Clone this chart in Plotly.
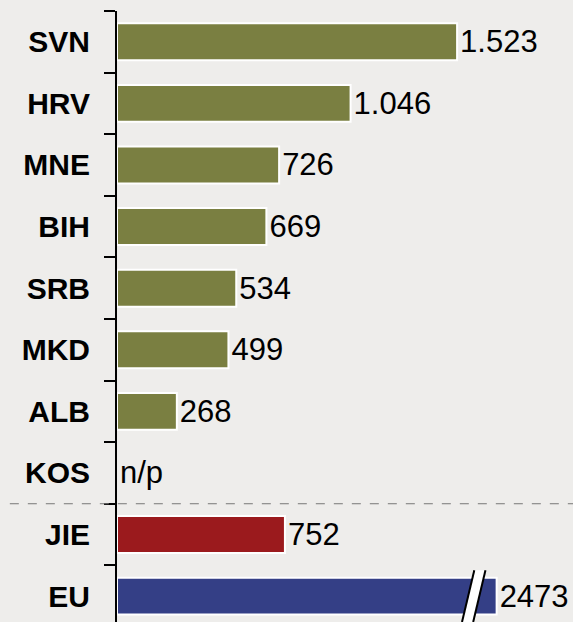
import plotly.graph_objects as go

countries = ["SVN", "HRV", "MNE", "BIH", "SRB", "MKD", "ALB", "KOS", "JIE", "EU"]
values = [1523, 1046, 726, 669, 534, 499, 268, 0, 752, 2473]
labels = ["1.523", "1.046", "726", "669", "534", "499", "268", "n/p", "752", "2473"]
eu_cap = 1700  # EU bar is cut (broken axis)

olive = "#7A7F41"
red = "#9B1A1D"
blue = "#343F86"
bg = "#EEEDEB"
colors = [olive] * 7 + [olive, red, blue]

shown = [min(v, eu_cap) for v in values]
line_w = [0 if v == 0 else 2 for v in values]

fig = go.Figure()
fig.add_trace(go.Bar(
    x=shown, y=countries, orientation="h",
    marker=dict(color=colors, line=dict(color="white", width=line_w)),
    width=0.6,
    text=labels, textposition="outside", cliponaxis=False, constraintext="none",
    textfont=dict(family="Arial, Liberation Sans", size=31, color="black"),
    hoverinfo="skip", showlegend=False,
))

y_bottom = 9.42
fig.update_layout(
    width=573, height=622,
    paper_bgcolor=bg, plot_bgcolor=bg,
    margin=dict(l=117, r=0, t=11, b=0),
    xaxis=dict(range=[0, 2042], visible=False, fixedrange=True),
    yaxis=dict(
        type="category", categoryorder="array", categoryarray=countries,
        range=[y_bottom, -0.5], autorange=False, fixedrange=True,
        showline=True, linecolor="black", linewidth=2,
        ticks="outside", ticklen=11, tickwidth=2, tickcolor="black",
        tickson="boundaries", ticklabelstandoff=19,
        tickfont=dict(family="Arial, Liberation Sans", size=30, color="black", weight="bold"),
        showgrid=False, zeroline=False,
    ),
    bargap=0.4,
)

# dashed separator between countries and aggregates
span = y_bottom + 0.5
sep = 1 - (7.5 + 0.5) / span
fig.add_shape(type="line", xref="paper", yref="paper", x0=-0.235, x1=1, y0=sep, y1=sep,
              line=dict(color="#777777", width=1, dash="dash"))

# axis break on the EU bar
top = 1 - (9 - 0.42 + 0.5) / span
b0 = eu_cap - 155
dx = 55
fig.add_shape(type="path", xref="x", yref="paper",
              path=f"M {b0},{0} L {b0 + dx},{top} L {b0 + dx + 50},{top} L {b0 + 50},{0} Z",
              fillcolor="white", line=dict(width=0))
for off in (0, 50):
    fig.add_shape(type="line", xref="x", yref="paper",
                  x0=b0 + off, y0=0, x1=b0 + dx + off, y1=top,
                  line=dict(color="black", width=2))

fig.write_html("out.html", config={"displayModeBar": False},
               post_script="document.body.style.margin='0';")
